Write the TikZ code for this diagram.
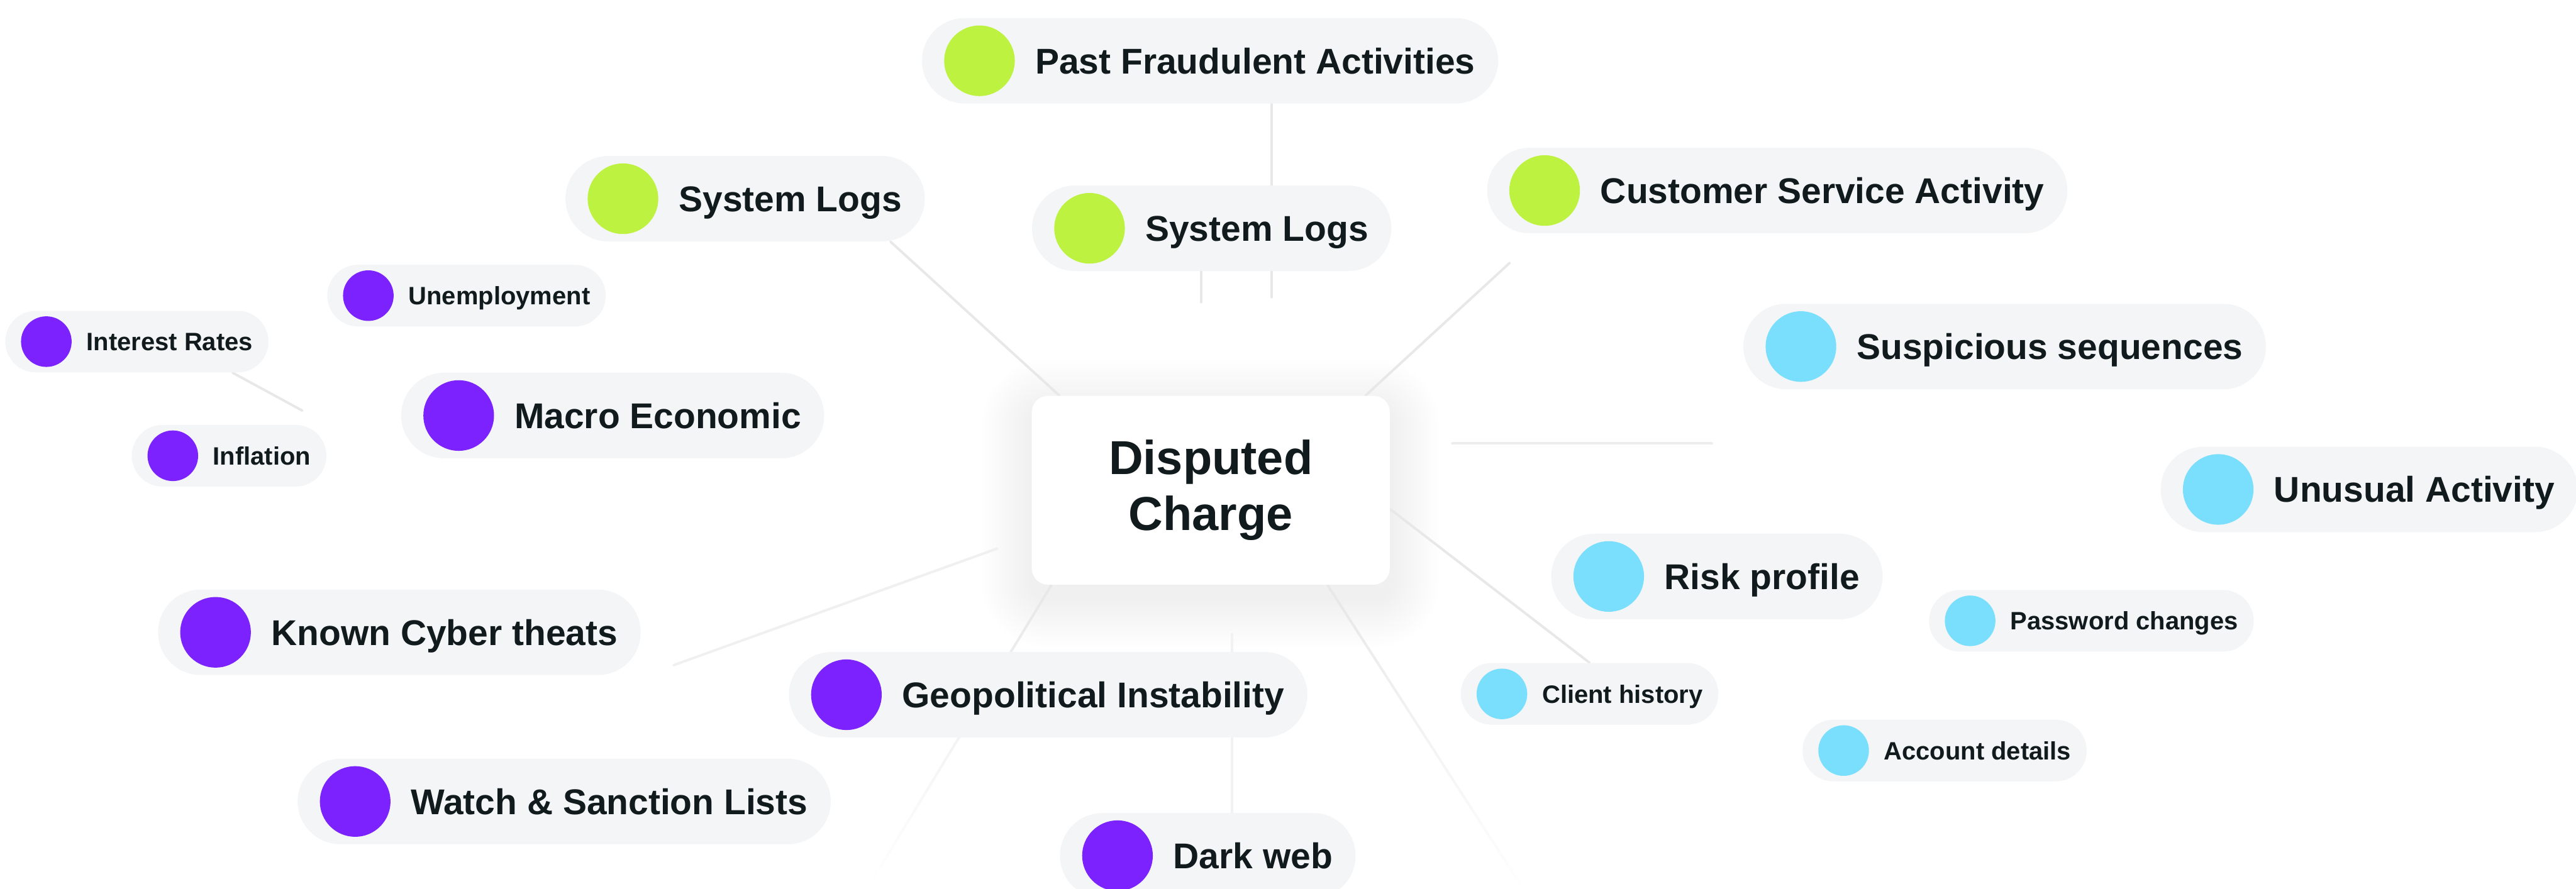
\documentclass[tikz,border=0pt]{standalone}
\usepackage{fontspec}
\setmainfont{Liberation Sans}
\usepackage{tikz}
\usetikzlibrary{backgrounds, fadings}
\definecolor{figink}{HTML}{111A1D}
\definecolor{figpill}{HTML}{F4F5F7}
\definecolor{figline}{HTML}{E8E8E8}
\definecolor{figlime}{HTML}{BDF241}
\definecolor{figsky}{HTML}{7ADFFD}
\definecolor{figviolet}{HTML}{7B22FF}
\tikzset{
    pill/.style={fill=figpill, text=figink, anchor=west, inner ysep=0pt, text depth=0pt},
    bigpill/.style={pill, font=\bfseries\fontsize{21.8}{24}\selectfont,
        text height=15.6pt, minimum height=52pt, rounded corners=26pt, inner xsep=14pt,
        execute at begin node={\hspace*{55pt}},
        path picture={\fill[#1] ([xshift=35pt]path picture bounding box.west) circle (21.5pt);}},
    smallpill/.style={pill, font=\bfseries\fontsize{15.3}{18}\selectfont,
        text height=11pt, minimum height=37.5pt, rounded corners=18.75pt, inner xsep=9.5pt,
        execute at begin node={\hspace*{40pt}},
        path picture={\fill[#1] ([xshift=25pt]path picture bounding box.west) circle (15.4pt);}},
    hub/.style={fill=white, text=figink, rounded corners=10pt,
        minimum width=218pt, minimum height=115pt, align=center,
        font=\bfseries\fontsize{29}{34}\selectfont},
}
\tikzstyle{link} = [line width=1.5pt, line cap=round, draw=figline]

\begin{document}
\begin{tikzpicture}[x=1pt, y=-1pt]
    \useasboundingbox (0,0) rectangle (1568,541);

    % centre
    \node[hub] (hub) at (737,298.5) {Disputed\\Charge};

    % green branch
    \node[bigpill=figlime] (pastfraud) at (561,37) {Past Fraudulent Activities};
    \node[bigpill=figlime] (syslogsA) at (344,121) {System Logs};
    \node[bigpill=figlime] (syslogsB) at (628,139) {System Logs};
    \node[bigpill=figlime] (custsvc) at (905,116) {Customer Service Activity};

    % blue branch
    \node[bigpill=figsky] (suspseq) at (1061,211) {Suspicious sequences};
    \node[bigpill=figsky] (unusual) at (1315,298) {Unusual Activity};
    \node[bigpill=figsky] (risk) at (944,351) {Risk profile};
    \node[smallpill=figsky] (password) at (1174,378) {Password changes};
    \node[smallpill=figsky] (client) at (889,422.5) {Client history};
    \node[smallpill=figsky] (account) at (1097,457) {Account details};

    % purple branch
    \node[smallpill=figviolet] (unemploy) at (199,180) {Unemployment};
    \node[smallpill=figviolet] (interest) at (3,208) {Interest Rates};
    \node[smallpill=figviolet] (inflation) at (80,277.5) {Inflation};
    \node[bigpill=figviolet] (macro) at (244,253) {Macro Economic};
    \node[bigpill=figviolet] (cyber) at (96,385) {Known Cyber theats};
    \node[bigpill=figviolet] (geopol) at (480,423) {Geopolitical Instability};
    \node[bigpill=figviolet] (watch) at (181,488) {Watch \& Sanction Lists};
    \node[bigpill=figviolet] (darkweb) at (645,521) {Dark web};

    % loose line ends
    \coordinate (pf-stub) at (774,181);
    \coordinate (sl-stub) at (731,184);
    \coordinate (cs-end) at (919,160);
    \coordinate (ss-a) at (884,270);
    \coordinate (ss-b) at (1042,270);
    \coordinate (dw-top) at (750,386);
    \coordinate (cy-a) at (410,405);
    \coordinate (cy-b) at (607,334);
    \coordinate (ir-end) at (184,250);
    \coordinate (lr-end) at (927,541);
    \coordinate (ll-end) at (531,536);

    \begin{scope}[on background layer]
        \fill[white] (0,0) rectangle (1568,541);
        % soft halo under the centre box
        \foreach \s [evaluate=\s as \rc using 10+\s] in {2,4,...,30}
            \fill[black, opacity=0.0045, rounded corners=\rc pt]
                ([xshift=-\s pt, yshift=\s pt-8pt]hub.north west)
                rectangle ([xshift=\s pt, yshift=-\s pt-8pt]hub.south east);
        % connectors behind the pills
        \draw[link] (pastfraud.south -| pf-stub) -- (pf-stub);
        \draw[link] (syslogsB.south -| sl-stub) -- (sl-stub);
        \draw[link] ([xshift=-21pt]syslogsA.south east) -- ([xshift=17pt]hub.north west);
        \draw[link] (cs-end) -- ([xshift=-15pt]hub.north east);
        \draw[link, draw=figline!80] (ss-a) -- (ss-b);
        \draw[link] ([yshift=-11.5pt]hub.east) -- (client.north);
        \draw[link, path fading=south] ([xshift=71pt]hub.south) -- (lr-end);
        \draw[link, path fading=south] ([xshift=-97pt]hub.south) -- (ll-end);
        \draw[link, draw=figline!55] (dw-top) -- (darkweb.north -| dw-top);
        \draw[link, draw=figline!65] (cy-a) -- (cy-b);
        \draw[link] ([xshift=-22pt]interest.south east) -- (ir-end);
    \end{scope}
\end{tikzpicture}
\end{document}
